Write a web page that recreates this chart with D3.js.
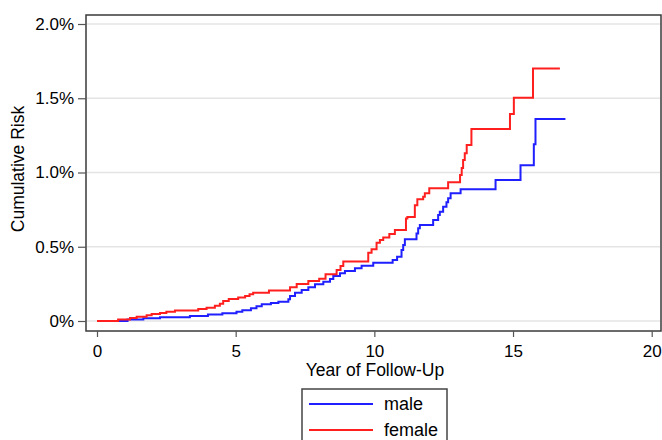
<!DOCTYPE html>
<html>
<head>
<meta charset="utf-8">
<script src="https://cdn.jsdelivr.net/npm/d3@7"></script>
<style>
  body { margin: 0; background: #fff; }
  text { font-family: "Liberation Sans", Arial, sans-serif; fill: #000; }
</style>
</head>
<body>
<svg id="chart" width="662" height="440"></svg>
<script>
// cumulative risk (%) by year of follow-up
var maleYears = [0, 1.1, 1.67, 2.27, 3.35, 4.0, 4.52, 5.03, 5.24, 5.55, 5.75, 5.94, 6.27, 6.54, 6.9, 6.96,
  7.14, 7.38, 7.62, 7.86, 8.16, 8.4, 8.52, 8.76, 8.94, 9.3, 9.54, 9.96, 10.66, 10.82, 10.98, 11.04, 11.1,
  11.52, 11.58, 11.64, 12.12, 12.3, 12.36, 12.48, 12.6, 12.66, 12.75, 13.11, 14.37, 15.27, 15.75, 15.81, 16.89];
var maleRisk = [0, 0.01, 0.018, 0.025, 0.034, 0.043, 0.052, 0.063, 0.073, 0.086, 0.1, 0.112, 0.122, 0.13, 0.146, 0.168,
  0.19, 0.209, 0.227, 0.247, 0.265, 0.283, 0.303, 0.321, 0.337, 0.355, 0.372, 0.392, 0.41, 0.433, 0.478, 0.512, 0.55,
  0.59, 0.624, 0.646, 0.68, 0.714, 0.736, 0.77, 0.80, 0.826, 0.86, 0.887, 0.95, 1.048, 1.19, 1.36, 1.36];

var femaleYears = [0, 0.76, 1.19, 1.43, 1.79, 1.97, 2.27, 2.5, 2.81, 3.65, 3.95, 4.25, 4.43, 4.55, 4.75, 5.09,
  5.34, 5.5, 5.63, 6.2, 6.96, 7.2, 7.62, 8.01, 8.24, 8.64, 8.78, 8.88, 9.78, 9.9, 10.08, 10.2, 10.32, 10.54,
  10.74, 11.14, 11.19, 11.46, 11.55, 11.76, 11.82, 11.98, 12.66, 13.09, 13.15, 13.2, 13.26, 13.33, 13.5,
  14.89, 15.03, 15.72, 16.69];
var femaleRisk = [0, 0.01, 0.02, 0.029, 0.038, 0.047, 0.054, 0.062, 0.07, 0.081, 0.09, 0.102, 0.117, 0.135, 0.148, 0.158,
  0.168, 0.18, 0.19, 0.205, 0.227, 0.249, 0.269, 0.285, 0.314, 0.343, 0.37, 0.40, 0.46, 0.483, 0.527, 0.545, 0.563, 0.586,
  0.613, 0.69, 0.70, 0.78, 0.82, 0.837, 0.86, 0.894, 0.934, 0.983, 1.03, 1.084, 1.13, 1.185, 1.293,
  1.394, 1.504, 1.70, 1.70];

var xTicks = [0, 5, 10, 15, 20];
var yTicks = [0, 0.5, 1.0, 1.5, 2.0];
var seriesNames = ["male", "female"];
var seriesColors = ["#1f1fff", "#ff1f1f"];

var svg = d3.select("#chart");

var x = d3.scaleLinear().domain([0, 20]).range([97, 651.7]);
var y = d3.scaleLinear().domain([0, 2]).range([321, 24]);

/*********************** grid + frame ************************/

svg.append("g")
  .selectAll("line")
  .data(yTicks)
  .enter()
  .append("line")
  .attr("x1", 87).attr("x2", 660)
  .attr("y1", function (d) { return y(d) })
  .attr("y2", function (d) { return y(d) })
  .attr("stroke", "#e4e4e4")
  .attr("stroke-width", 1.5);

svg.append("rect")
  .attr("x", 86).attr("y", 15)
  .attr("width", 575).attr("height", 316)
  .attr("fill", "none")
  .attr("stroke", "#3a3a3a")
  .attr("stroke-width", 1.5);

/*************************** axes ****************************/

var xAxis = svg.append("g")
  .attr("transform", "translate(0,331)")
  .call(d3.axisBottom(x).tickValues(xTicks).tickSize(6).tickPadding(8));

var yAxis = svg.append("g")
  .attr("transform", "translate(86,0)")
  .call(d3.axisLeft(y).tickValues(yTicks).tickSize(8).tickPadding(4)
    .tickFormat(function (d) { return d === 0 ? "0%" : d.toFixed(1) + "%" }));

[xAxis, yAxis].forEach(function (g) {
  g.select(".domain").remove();
  g.selectAll(".tick line").attr("stroke", "#555").attr("stroke-width", 1.2);
  g.selectAll(".tick text")
    .style("font-family", "'Liberation Sans', Arial, sans-serif")
    .style("font-size", "17px")
    .attr("fill", "#000");
});

svg.append("text")
  .attr("x", 375).attr("y", 376)
  .attr("text-anchor", "middle")
  .style("font-size", "17.5px")
  .text("Year of Follow-Up");

svg.append("text")
  .attr("transform", "translate(24,169) rotate(-90)")
  .attr("text-anchor", "middle")
  .style("font-size", "17.5px")
  .text("Cumulative Risk");

/************************** curves ***************************/

var line = d3.line()
  .x(function (d) { return x(d[0]) })
  .y(function (d) { return y(d[1]) })
  .curve(d3.curveStepAfter);

var curves = [d3.zip(maleYears, maleRisk), d3.zip(femaleYears, femaleRisk)];

svg.append("g")
  .selectAll("path")
  .data(curves)
  .enter()
  .append("path")
  .attr("d", line)
  .attr("fill", "none")
  .attr("stroke", function (d, i) { return seriesColors[i] })
  .attr("stroke-width", 2);

/************************** legend ***************************/

var legend = svg.append("g");

legend.append("rect")
  .attr("x", 302).attr("y", 389)
  .attr("width", 145).attr("height", 60)
  .attr("fill", "#fff")
  .attr("stroke", "#444")
  .attr("stroke-width", 1.5);

var items = legend.selectAll(".item")
  .data(seriesNames)
  .enter()
  .append("g")
  .attr("transform", function (d, i) { return "translate(0," + (404 + i * 26) + ")" });

items.append("line")
  .attr("x1", 309).attr("x2", 373)
  .attr("stroke", function (d, i) { return seriesColors[i] })
  .attr("stroke-width", 2);

items.append("text")
  .attr("x", 384).attr("y", 6)
  .style("font-size", "18px")
  .text(function (d) { return d });
</script>
</body>
</html>
